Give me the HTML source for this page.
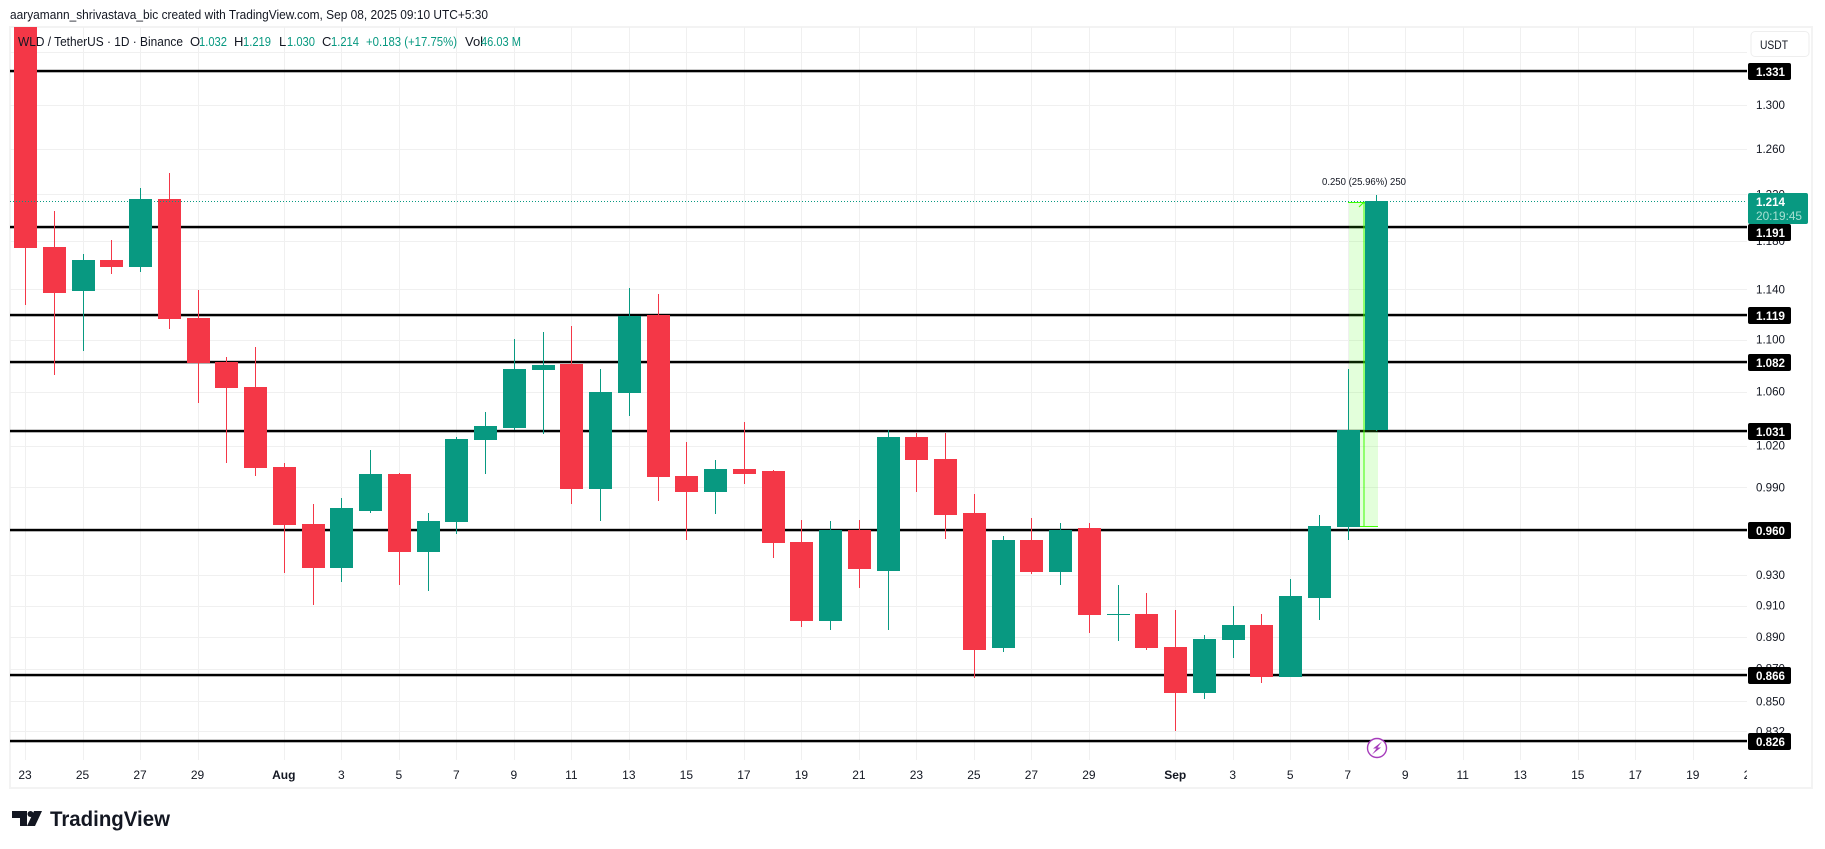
<!DOCTYPE html>
<html lang="en">
<head>
<meta charset="utf-8">
<title>WLD / TetherUS 1D chart</title>
<style>
  html, body { margin: 0; padding: 0; background: #ffffff; }
  body { width: 1825px; height: 849px; overflow: hidden; }
  svg { display: block; font-family: "Liberation Sans", Arial, sans-serif; }
  text { fill: #131722; }
</style>
</head>
<body>
<svg id="chart" xmlns="http://www.w3.org/2000/svg" width="1825" height="849" viewBox="0 0 1825 849">
  <defs>
    <clipPath id="pane-clip"><rect x="10" y="27" width="1737" height="733"></rect></clipPath>
    <clipPath id="time-clip"><rect x="10" y="760" width="1737" height="28"></rect></clipPath>
  </defs>
  <rect x="0" y="0" width="1825" height="849" fill="#ffffff"></rect>
  <text x="10" y="19" font-size="13" textLength="478" lengthAdjust="spacingAndGlyphs">aaryamann_shrivastava_bic created with TradingView.com, Sep 08, 2025 09:10 UTC+5:30</text>
  <rect x="10" y="27" width="1802" height="761" fill="none" stroke="#f3f3f3" stroke-width="2"></rect>
  <g id="grid" clip-path="url(#pane-clip)"></g>
  <g id="levels"></g>
  <g id="measure"></g>
  <g id="candles" clip-path="url(#pane-clip)"></g>
  <g id="last-line"></g>
  <g id="y-axis"></g>
  <g id="x-axis" clip-path="url(#time-clip)"></g>

  <g font-size="13">
    <text x="18" y="46" textLength="165" lengthAdjust="spacingAndGlyphs">WLD / TetherUS · 1D · Binance</text>
    <text x="190" y="46">O</text>
    <text x="199" y="46" style="fill:#089981" textLength="28" lengthAdjust="spacingAndGlyphs">1.032</text>
    <text x="234" y="46">H</text>
    <text x="243" y="46" style="fill:#089981" textLength="28" lengthAdjust="spacingAndGlyphs">1.219</text>
    <text x="279" y="46">L</text>
    <text x="287" y="46" style="fill:#089981" textLength="28" lengthAdjust="spacingAndGlyphs">1.030</text>
    <text x="322" y="46">C</text>
    <text x="331" y="46" style="fill:#089981" textLength="28" lengthAdjust="spacingAndGlyphs">1.214</text>
    <text x="366" y="46" style="fill:#089981" textLength="91" lengthAdjust="spacingAndGlyphs">+0.183 (+17.75%)</text>
    <text x="465" y="46">Vol</text>
    <text x="481" y="46" style="fill:#089981" textLength="40" lengthAdjust="spacingAndGlyphs">46.03 M</text>
  </g>

  <g>
    <rect x="1751" y="31.5" width="58" height="25" rx="4" fill="#ffffff" stroke="#eeeeee"></rect>
    <text x="1760" y="49" font-size="12" textLength="28" lengthAdjust="spacingAndGlyphs">USDT</text>
  </g>

  <g>
    <path fill="#131722" d="M12 811h15v15h-7v-8h-8z M34 811l8 0-7 15h-8z"></path>
    <circle cx="30.5" cy="814" r="3" fill="#131722"></circle>
    <text x="50" y="826" font-size="21" font-weight="bold" textLength="120" lengthAdjust="spacingAndGlyphs">TradingView</text>
  </g>

  <g>
    <circle cx="1377" cy="748" r="9.5" fill="#ffffff" stroke="#a63cbb" stroke-width="1.4"></circle>
    <path fill="#a63cbb" d="M1382 741.5l-9 7h3.5l-4.500 6 9-7h-3.500z"></path>
  </g>
</svg>

<script>
// ---- Data ----
const opens  = [1.4000,1.1750,1.1388,1.1642,1.1584,1.2159,1.1171,1.0826,1.0635,1.0045,0.9646,0.9347,0.9735,0.9995,0.9455,0.9659,1.0240,1.0328,1.0764,1.0810,0.9889,1.0589,1.1194,0.9981,0.9868,1.0031,1.0017,0.9522,0.9001,0.9604,0.9327,1.0262,1.0102,0.9721,0.8830,0.9536,0.9321,0.9618,0.9046,0.9046,0.8836,0.8551,0.8880,0.8975,0.8649,0.9149,0.9624,1.0313];
const highs  = [1.4300,1.2056,1.1692,1.1809,1.2255,1.2387,1.1396,1.0864,1.0942,1.0074,0.9783,0.9825,1.0167,1.0002,0.9721,1.0262,1.0447,1.1005,1.1059,1.1107,1.0772,1.1412,1.1364,1.0225,1.0095,1.0372,1.0024,0.9673,0.9666,0.9673,1.0313,1.0291,1.0291,0.9853,0.9563,0.9687,0.9653,0.9653,0.9235,0.9182,0.9072,0.8911,0.9098,0.9046,0.9275,0.9707,1.0772,1.2191];
const lows   = [1.1275,1.0726,1.0911,1.1526,1.1543,1.1083,1.0514,1.0074,0.9981,0.9314,0.9104,0.9255,0.9721,0.9235,0.9195,0.9577,0.9995,1.0313,1.0284,0.9783,0.9666,1.0417,0.9804,0.9536,0.9714,0.9924,0.9414,0.8962,0.8943,0.9215,0.8943,0.9868,0.9543,0.8642,0.8804,0.9307,0.9235,0.8924,0.8874,0.8817,0.8322,0.8514,0.8767,0.8612,0.8647,0.9007,0.9536,1.0306];
const closes = [1.1744,1.1372,1.1642,1.1584,1.2159,1.1163,1.0818,1.0627,1.0038,0.9639,0.9347,0.9756,0.9995,0.9455,0.9666,1.0247,1.0343,1.0772,1.0802,0.9889,1.0597,1.1187,0.9974,0.9868,1.0031,0.9995,0.9516,0.9001,0.9604,0.9340,1.0262,1.0095,0.9707,0.8817,0.9536,0.9321,0.9604,0.9040,0.9048,0.8830,0.8551,0.8886,0.8975,0.8649,0.9162,0.9631,1.0313,1.2141];

const priceTicks = [1.35,1.30,1.26,1.22,1.18,1.14,1.10,1.06,1.02,0.99,0.93,0.91,0.89,0.87,0.85,0.832];
const priceTickLabels = ["","1.300","1.260","1.220","1.180","1.140","1.100","1.060","1.020","0.990","0.930","0.910","0.890","0.870","0.850","0.832"];

const timeTicks = [0,2,4,6,9,11,13,15,17,19,21,23,25,27,29,31,33,35,37,40,42,44,46,48,50,52,54,56,58,60];
const timeTickLabels = ["23","25","27","29","Aug","3","5","7","9","11","13","15","17","19","21","23","25","27","29","Sep","3","5","7","9","11","13","15","17","19","21"];

const levelPrices = [1.3322,1.1919,1.1194,1.0826,1.0306,0.9604,0.8661,0.8263];
const levelLabels = ["1.331","1.191","1.119","1.082","1.031","0.960","0.866","0.826"];

const lastPrice = 1.2141;
const lastPriceLabel = "1.214";
const countdownLabel = "20:19:45";
const measureRange = [0.9631,1.2133];
const measureBars = [46,47];
const measureLabel = "0.250 (25.96%) 250";

// ---- Axis functions ----
function xScale(i) { return 25.5 + 28.755 * i; }
function yScale(p) { return 473.3 - 1403 * Math.log(p); }

const SVG_NS = 'http://www.w3.org/2000/svg';
function make(tag, parentId, attrs) {
  const el = document.createElementNS(SVG_NS, tag);
  for (const k in attrs) el.setAttribute(k, attrs[k]);
  document.getElementById(parentId).appendChild(el);
  return el;
}

// ---- Grid ----
priceTicks.forEach(function (p) {
  const y = Math.round(yScale(p));
  const el = make('rect', 'grid', { x: 10, y: y, width: 1737, height: 1, fill: '#f0f0f0' });
  
  
});
timeTicks.forEach(function (i) {
  const x = Math.round(xScale(i) - 0.5);
  const el = make('rect', 'grid', { x: x, y: 27, width: 1, height: 733, fill: '#f0f0f0' });
  
  
});

// ---- Horizontal levels ----
levelPrices.forEach(function (p) {
  const y = Math.round(yScale(p));
  const el = make('rect', 'levels', { x: 10, y: y - 1.2, width: 1737, height: 2.5, fill: '#000000' });
  
  
});

// ---- Measure tool ----
(function () {
  const left = Math.round(xScale(measureBars[0])) + 1;
  const right = Math.round(xScale(measureBars[1])) + 1;
  const mid = Math.round((left + right) / 2);
  const top = Math.round(yScale(measureRange[1]));
  const bottom = Math.round(yScale(measureRange[0]));
  const box = make('rect', 'measure', { x: left, y: top, width: right - left, height: bottom - top, fill: 'rgba(60,255,0,0.14)' });
  
  
  const stem = make('rect', 'measure', { x: mid - 0.5, y: top, width: 1, height: bottom - top, fill: '#3cff00' });
  
  
  const topEdge = make('rect', 'measure', { x: left - 1, y: top, width: right - left, height: 1, fill: '#3cff00' });
  
  
  const bottomEdge = make('rect', 'measure', { x: left, y: bottom, width: right - left, height: 1, fill: '#3cff00' });
  
  
  const head = make('path', 'measure', { d: 'M' + (mid - 5) + ' ' + (top + 5) + 'L' + mid + ' ' + top + 'L' + (mid + 5) + ' ' + (top + 5), fill: 'none', stroke: '#3cff00', 'stroke-width': 1 });
  
  
  const label = make('text', 'measure', { x: mid, y: top - 17, 'font-size': 10, 'text-anchor': 'middle', textLength: 84, lengthAdjust: 'spacingAndGlyphs' });
  label.textContent = measureLabel;
  
  
})();

// ---- Candles ----
opens.forEach(function (o, i) {
  const c = closes[i];
  const up = c >= o;
  const color = up ? '#089981' : '#f43747';
  const left = Math.round(xScale(i) - 11.5);
  const bodyTop = Math.round(yScale(Math.max(o, c)));
  const bodyBottom = Math.round(yScale(Math.min(o, c)));
  const wickTop = Math.round(yScale(highs[i]));
  const wickBottom = Math.round(yScale(lows[i]));
  const wick = make('rect', 'candles', { x: left + 11, y: wickTop, width: 1, height: Math.max(1, wickBottom - wickTop), fill: color });
  
  
  const body = make('rect', 'candles', { x: left, y: bodyTop, width: 23, height: Math.max(1, bodyBottom - bodyTop), fill: color });
  
  
});

// ---- Last price line ----
(function () {
  const y = Math.round(yScale(lastPrice)) + 0.5;
  const line = make('line', 'last-line', { x1: 10, x2: 1747, y1: y, y2: y, stroke: '#089981', 'stroke-width': 1, 'stroke-dasharray': '1 2' });
  
  
})();

// ---- Price axis ----
priceTickLabels.forEach(function (label, i) {
  if (!label) return;
  const t = make('text', 'y-axis', { x: 1756, y: yScale(priceTicks[i]) + 4, 'font-size': 12, textLength: 29, lengthAdjust: 'spacingAndGlyphs' });
  t.textContent = label;
  
  
});

const lastY = Math.round(yScale(lastPrice));
const boxTop = lastY - 8;
const boxBottom = lastY + 23;

levelPrices.forEach(function (p, i) {
  const y = Math.round(yScale(p));
  let top = y - 8;
  if (top < boxBottom && top + 17 > boxTop) top = boxBottom;
  const box = make('rect', 'y-axis', { x: 1748, y: top, width: 43, height: 17, rx: 2, fill: '#000000' });
  
  
  const t = make('text', 'y-axis', { x: 1756, y: top + 13, 'font-size': 12, 'font-weight': 'bold', style: 'fill:#ffffff', textLength: 29, lengthAdjust: 'spacingAndGlyphs' });
  t.textContent = levelLabels[i];
  
  
});

(function () {
  const box = make('rect', 'y-axis', { x: 1748, y: boxTop, width: 60, height: 31, rx: 2, fill: '#089981' });
  
  
  const t = make('text', 'y-axis', { x: 1756, y: lastY + 5, 'font-size': 12, 'font-weight': 'bold', style: 'fill:#ffffff', textLength: 29, lengthAdjust: 'spacingAndGlyphs' });
  t.textContent = lastPriceLabel;
  
  
  const cd = make('text', 'y-axis', { x: 1756, y: lastY + 19, 'font-size': 12, style: 'fill:#a6e0d2', textLength: 46, lengthAdjust: 'spacingAndGlyphs' });
  cd.textContent = countdownLabel;
  
  
})();

// ---- Time axis ----
timeTicks.forEach(function (i, k) {
  const label = timeTickLabels[k];
  const isMonth = label.length === 3;
  const t = make('text', 'x-axis', { x: xScale(i) - 0.5, y: 779, 'font-size': 12, 'text-anchor': 'middle', 'font-weight': isMonth ? 'bold' : 'normal' });
  t.textContent = label;
  
  
});
</script>
</body>
</html>
